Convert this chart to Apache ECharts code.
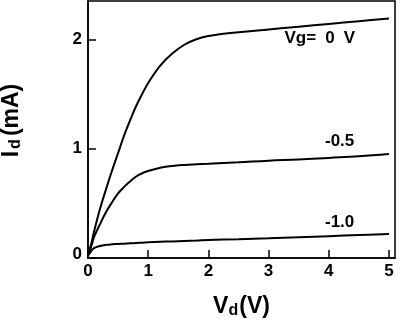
<!DOCTYPE html>
<html><head><meta charset="utf-8">
<script src="https://cdn.jsdelivr.net/npm/echarts@6/dist/echarts.min.js"></script>
<style>html,body{margin:0;padding:0;background:#fff}#c{width:408px;height:328px}</style>
</head><body><div id="c"></div>
<script>
var vd      = [0, 0.05, 0.1, 0.2, 0.3, 0.4, 0.5, 0.6, 0.7, 0.8, 0.9, 1.0, 1.2, 1.4, 1.6, 1.8, 2.0, 2.5, 3.0, 3.5, 4.0, 4.5, 5.0];
var idVg0   = [0.03, 0.12, 0.24, 0.45, 0.63, 0.80, 0.96, 1.12, 1.26, 1.39, 1.50, 1.60, 1.76, 1.87, 1.95, 2.00, 2.03, 2.065, 2.09, 2.115, 2.14, 2.165, 2.19];
var idVgM05 = [0.03, 0.10, 0.19, 0.31, 0.42, 0.51, 0.59, 0.65, 0.70, 0.745, 0.775, 0.795, 0.825, 0.842, 0.851, 0.857, 0.862, 0.875, 0.89, 0.90, 0.915, 0.93, 0.95];
var idVgM10 = [0.02, 0.06, 0.09, 0.11, 0.12, 0.125, 0.128, 0.131, 0.134, 0.137, 0.14, 0.143, 0.148, 0.152, 0.156, 0.16, 0.165, 0.172, 0.18, 0.19, 0.20, 0.21, 0.22];
var curveNames  = ['Vg= 0 V', '-0.5', '-1.0'];
var labelCoords = [[3.85, 2.01], [4.18, 1.07], [4.18, 0.33]];
var xTicks = [0, 1, 2, 3, 4, 5];
var yTicks = [0, 1, 2];

function pairs(ys){ return vd.map(function(v,i){ return [v, ys[i]]; }); }
var font = 'Liberation Sans, Arial, sans-serif';
var chart = echarts.init(document.getElementById('c'));
var allY = [idVg0, idVgM05, idVgM10];
chart.setOption({
  animation: false,
  backgroundColor: '#fff',
  grid: {left: 88, top: 1, right: 13, bottom: 70, show: true, borderColor: '#000', borderWidth: 1.5,
         containLabel: false, outerBoundsMode: 'none'},
  xAxis: {
    type: 'value', min: 0, max: 5.1, interval: 1,
    name: '{m|V}{s|d}{m|(V)}', nameLocation: 'middle', nameGap: 36,
    nameTextStyle: {rich: {
      m: {fontFamily: font, fontWeight: 'bold', fontSize: 23, color: '#000'},
      s: {fontFamily: font, fontWeight: 'bold', fontSize: 16, color: '#000', padding: [9, 1, 0, 0]}
    }},
    axisLine: {show: true, lineStyle: {color: '#000', width: 1.5}},
    axisTick: {show: true, inside: true, length: 8, lineStyle: {color: '#000', width: 1.5}},
    axisLabel: {show: true, showMaxLabel: false, margin: 5, color: '#000', fontFamily: font, fontWeight: 'bold', fontSize: 17,
      formatter: function(v){ return xTicks.indexOf(v) >= 0 ? String(v) : ''; }},
    splitLine: {show: false}
  },
  yAxis: {
    type: 'value', min: 0, max: 2.35, interval: 1,
    name: '{m|I}{s|d}{m|(mA)}', nameLocation: 'middle', nameGap: 64, nameRotate: 90,
    nameTextStyle: {padding: [0, 0, 0, 18], rich: {
      m: {fontFamily: font, fontWeight: 'bold', fontSize: 23, color: '#000'},
      s: {fontFamily: font, fontWeight: 'bold', fontSize: 16, color: '#000', padding: [9, 3, 0, 2]}
    }},
    axisLine: {show: true, lineStyle: {color: '#000', width: 1.5}},
    axisTick: {show: true, inside: true, length: 8, lineStyle: {color: '#000', width: 1.5}},
    axisLabel: {show: true, showMaxLabel: false, margin: 6, color: '#000', fontFamily: font, fontWeight: 'bold', fontSize: 17,
      formatter: function(v){ if (v === 0) return '{z|0}'; return yTicks.indexOf(v) >= 0 ? String(v) : ''; },
      rich: {z: {fontFamily: font, fontWeight: 'bold', fontSize: 17, color: '#000', padding: [0, 0, 8, 0]}}},
    splitLine: {show: false}
  },
  series: allY.map(function(ys, k){
    return {
      type: 'line', name: curveNames[k], data: pairs(ys), smooth: 0.4, showSymbol: false,
      lineStyle: {color: '#000', width: 2},
      markPoint: {
        symbol: 'circle', symbolSize: 1, itemStyle: {color: 'rgba(0,0,0,0)'},
        data: [{coord: labelCoords[k], value: curveNames[k]}],
        label: {show: true, position: 'inside', color: '#000',
          formatter: k === 0 ? '{a|Vg=}{b|0}{a|V}' : curveNames[k],
          fontFamily: font, fontWeight: 'bold', fontSize: 17,
          rich: {
            a: {fontFamily: font, fontWeight: 'bold', fontSize: 17, color: '#000'},
            b: {fontFamily: font, fontWeight: 'bold', fontSize: 17, color: '#000', padding: [0, 9, 0, 9]}
          }}
      }
    };
  })
});
</script></body></html>
